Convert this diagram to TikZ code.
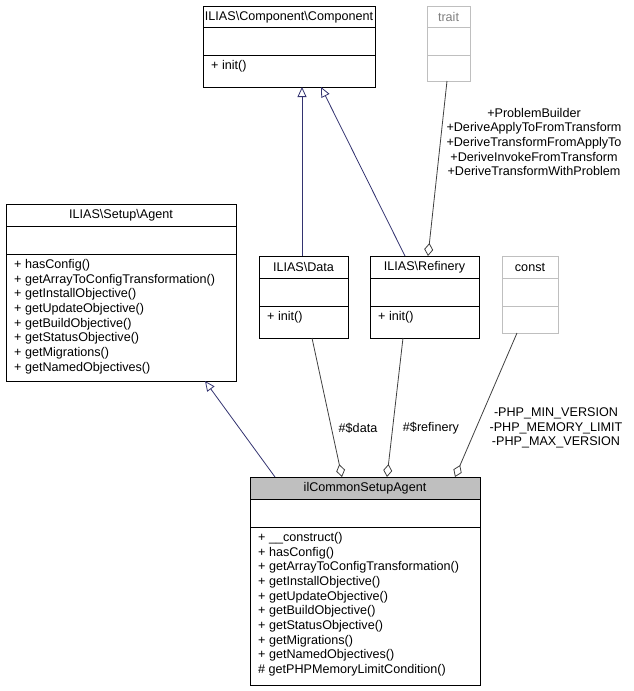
\documentclass[tikz,border=0pt]{standalone}
\usepackage{fontspec}
\setmainfont{Liberation Sans}
\usetikzlibrary{arrows.meta}
\begin{document}
\begin{tikzpicture}[x=1pt,y=-1pt,
  box/.style={draw=black,line width=0.8pt,inner sep=0,fill=white},
  gbox/.style={draw=black!25,line width=0.8pt,inner sep=0,fill=white},
  txt/.style={font=\fontsize{12.6}{14.7}\selectfont,inner sep=0},
  meth/.style={txt,align=left,anchor=north west},
  inh/.style={draw=blue!30!black!80,line width=0.8pt,-{Triangle[open,length=10pt,width=9pt]}},
  agg/.style={draw=black!75,line width=0.8pt,-{Diamond[open,length=13pt,width=9pt]}},
  lbl/.style={txt,align=center}]
\useasboundingbox (0,0) rectangle (633,691);
% Component
\node[box,minimum width=172,minimum height=81] (comp) at (289,46.5) {};
\draw[black,line width=0.8pt] (203,27)--(375,27) (203,55)--(375,55);
\node[txt] (compt) at (289,17) {ILIAS\textbackslash Component\textbackslash Component};
\node[meth] (compm) at (211,60) {+ init()};
% trait
\node[gbox,minimum width=43,minimum height=75] (trait) at (448.5,43.5) {};
\draw[black!25,line width=0.8pt] (427,27)--(470,27) (427,55)--(470,55);
\node[txt,text=black!50] (traitt) at (448.5,17) {trait};
% Agent
\node[box,minimum width=230,minimum height=177] (agent) at (121,292.5) {};
\draw[line width=0.8pt] (6,226)--(236,226) (6,254)--(236,254);
\node[txt] (agentt) at (121,215) {ILIAS\textbackslash Setup\textbackslash Agent};
\node[meth] (agentm) at (14,259) {+ hasConfig()\\+ getArrayToConfigTransformation()\\+ getInstallObjective()\\+ getUpdateObjective()\\+ getBuildObjective()\\+ getStatusObjective()\\+ getMigrations()\\+ getNamedObjectives()};
% Data
\node[box,minimum width=89,minimum height=82] (data) at (303.5,297) {};
\draw[line width=0.8pt] (259,278)--(348,278) (259,306)--(348,306);
\node[txt] (datat) at (303.5,267) {ILIAS\textbackslash Data};
\node[meth] (datam) at (267,311) {+ init()};
% Refinery
\node[box,minimum width=109,minimum height=82] (ref) at (424.5,297) {};
\draw[line width=0.8pt] (370,278)--(479,278) (370,306)--(479,306);
\node[txt] (reft) at (424.5,267) {ILIAS\textbackslash Refinery};
\node[meth] (refm) at (378,311) {+ init()};
% const
\node[gbox,minimum width=56,minimum height=77] (const) at (530,294.5) {};
\draw[black!25,line width=0.8pt] (502,278)--(558,278) (502,306)--(558,306);
\node[txt] (constt) at (530,267) {const};
% ilCommonSetupAgent
\node[box,minimum width=230,minimum height=208] (il) at (365,581) {};
\fill[black!25] (250,477) rectangle (480,499);
\draw[line width=0.8pt] (250,477) rectangle (480,685) (250,499)--(480,499) (250,527)--(480,527);
\node[txt] (ilt) at (365,488) {ilCommonSetupAgent};
\node[meth] (ilm) at (258,532) {+ \_\_construct()\\+ hasConfig()\\+ getArrayToConfigTransformation()\\+ getInstallObjective()\\+ getUpdateObjective()\\+ getBuildObjective()\\+ getStatusObjective()\\+ getMigrations()\\+ getNamedObjectives()\\\# getPHPMemoryLimitCondition()};
% coordinates
\coordinate (a1) at (275,477); \coordinate (a2) at (205,381);
\coordinate (d1) at (302,256); \coordinate (d2) at (302,87);
\coordinate (r1) at (405,256); \coordinate (r2) at (321,87);
\coordinate (t1) at (447,81); \coordinate (t2) at (428,256);
\coordinate (e1) at (312,338); \coordinate (e2) at (342,477);
\coordinate (f1) at (403,338); \coordinate (f2) at (387,477);
\coordinate (g1) at (517,333); \coordinate (g2) at (455,477);
\draw[inh] (a1)--(a2);
\draw[inh] (d1)--(d2);
\draw[inh] (r1)--(r2);
\draw[agg] (t1)--(t2);
\draw[agg] (e1)--(e2);
\draw[agg] (f1)--(f2);
\draw[agg] (g1)--(g2);
\node[lbl] (tl) at (534,142) {+ProblemBuilder\\+DeriveApplyToFromTransform\\+DeriveTransformFromApplyTo\\+DeriveInvokeFromTransform\\+DeriveTransformWithProblem};
\node[lbl] (dl) at (358,428) {\#\$data};
\node[lbl] (rl) at (431,428) {\#\$refinery};
\node[lbl] (cl) at (556,428) {-PHP\_MIN\_VERSION\\-PHP\_MEMORY\_LIMIT\\-PHP\_MAX\_VERSION};
\end{tikzpicture}
\end{document}
